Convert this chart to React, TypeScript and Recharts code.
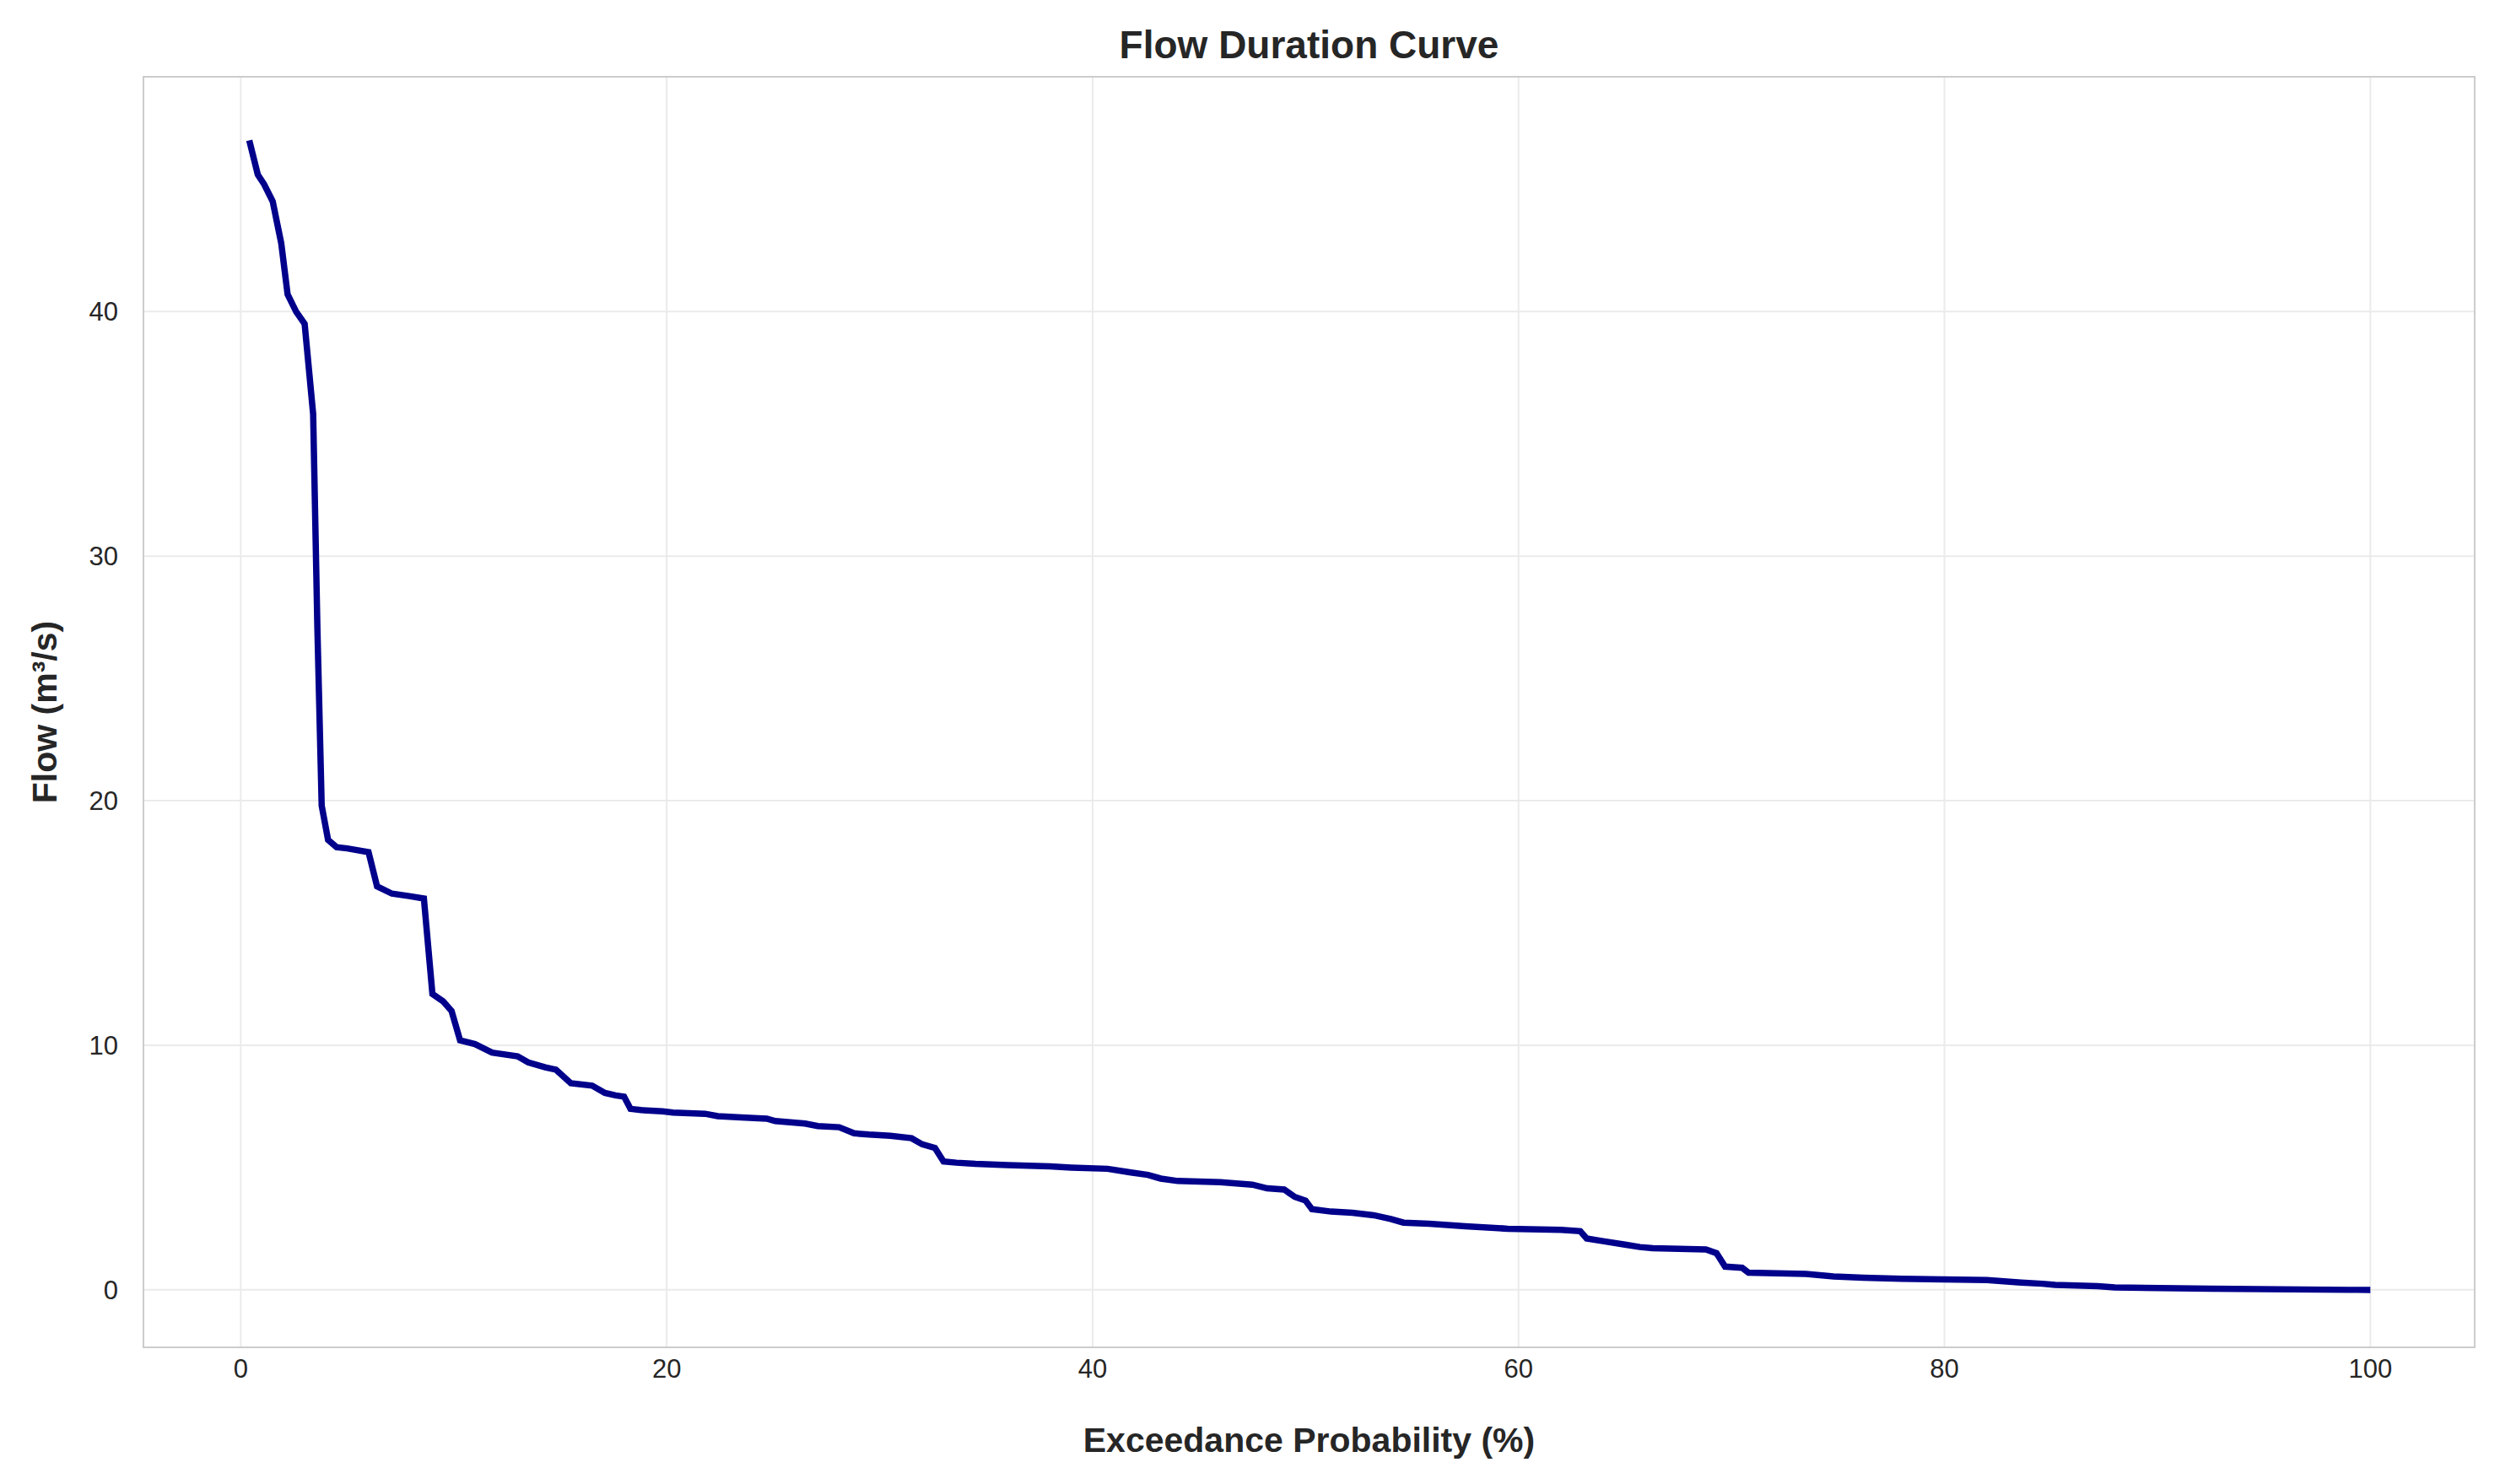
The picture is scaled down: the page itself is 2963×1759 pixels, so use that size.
import { CartesianGrid, Line, LineChart, ReferenceArea, XAxis, YAxis } from "recharts";

const probability = [
  0.4, 0.8, 1.1, 1.5, 1.9, 2.2, 2.6, 3.0, 3.4, 3.6, 3.8, 4.1, 4.5, 5.0, 6.0, 6.4, 7.1, 7.9, 8.6, 9.0,
  9.5, 9.9, 10.3, 11.0, 11.8, 13.0, 13.5, 14.3, 14.8, 15.5, 16.5, 17.1, 17.6, 18.0, 18.3, 18.8, 19.8,
  20.3, 21.8, 22.4, 23.5, 24.7, 25.1, 26.5, 27.1, 28.1, 28.8, 29.5, 30.5, 31.5, 32.0, 32.6, 33.0, 33.6,
  34.5, 36.0, 38.0, 39.0, 40.7, 41.8, 42.6, 43.2, 44.0, 46.0, 47.5, 48.2, 49.0, 49.5, 50.0, 50.3, 51.2,
  52.2, 53.2, 54.0, 54.6, 55.8, 57.5, 59.5, 62.0, 62.9, 63.2, 63.9, 65.0, 65.7, 66.3, 68.8, 69.3, 69.7,
  70.5, 70.8, 73.5, 74.8, 76.2, 78.0, 82.0, 83.6, 84.6, 85.2, 87.2, 88.0, 92.5, 99.0, 100.0,
];
const flow = [
  47, 45.6, 45.2, 44.5, 42.8, 40.7, 40, 39.5, 35.8, 27, 19.8, 18.4, 18.1, 18.05, 17.9, 16.5, 16.2, 16.1, 16, 12.1,
  11.8, 11.4, 10.2, 10.05, 9.7, 9.55, 9.3, 9.1, 9.0, 8.45, 8.35, 8.05, 7.95, 7.9, 7.4, 7.35, 7.3,
  7.25, 7.2, 7.1, 7.05, 7.0, 6.9, 6.8, 6.7, 6.65, 6.4, 6.35, 6.3, 6.2, 5.95, 5.8, 5.25, 5.2,
  5.15, 5.1, 5.05, 5.0, 4.95, 4.8, 4.7, 4.55, 4.45, 4.4, 4.3, 4.15, 4.1, 3.8, 3.65, 3.3, 3.2,
  3.15, 3.05, 2.9, 2.75, 2.7, 2.6, 2.5, 2.45, 2.4, 2.1, 2.0, 1.85, 1.75, 1.7, 1.65, 1.5, 0.95,
  0.9, 0.7, 0.65, 0.55, 0.5, 0.45, 0.4, 0.3, 0.25, 0.2, 0.15, 0.1, 0.05, 0, 0,
];
const xTicks = [0, 20, 40, 60, 80, 100];
const yTicks = [0, 10, 20, 30, 40];

const data = probability.map((p, i) => ({ p, q: flow[i] }));

const font = "'Liberation Sans', Arial, sans-serif";
const tick = { fontSize: 31, fill: "#262626", fontFamily: font };
const X_DOMAIN: [number, number] = [-4.57, 104.9];
const Y_DOMAIN: [number, number] = [-2.35, 49.6];

export default function App() {
  return (
    <div style={{ position: "absolute", left: 0, top: 0, width: 2963, height: 1759, background: "#fff" }}>
      <div
        style={{
          position: "absolute", left: 170, width: 2763, top: 26, textAlign: "center",
          fontFamily: font, fontWeight: "bold", fontSize: 46, color: "#262626",
        }}
      >
        Flow Duration Curve
      </div>
      <LineChart width={2963} height={1759} data={data} margin={{ top: 91, right: 30, left: 0, bottom: 0 }}>
        <CartesianGrid stroke="#ebebeb" strokeWidth={2} horizontalValues={yTicks} verticalValues={xTicks} />
        <XAxis
          dataKey="p" type="number" domain={X_DOMAIN} ticks={xTicks} allowDataOverflow
          height={162} tick={tick} tickLine={false} axisLine={false} tickMargin={8}
          label={{ value: "Exceedance Probability (%)", position: "insideBottom", offset: 38, style: { fontSize: 41, fontWeight: "bold", fill: "#262626", fontFamily: font } }}
        />
        <YAxis
          type="number" domain={Y_DOMAIN} ticks={yTicks} allowDataOverflow
          width={170} tick={tick} tickLine={false} axisLine={false} tickMargin={24}
          label={{ value: "Flow (m³/s)", angle: -90, position: "insideLeft", offset: 52, style: { fontSize: 41, fontWeight: "bold", fill: "#262626", fontFamily: font, textAnchor: "middle" } }}
        />
        <ReferenceArea x1={X_DOMAIN[0]} x2={X_DOMAIN[1]} y1={Y_DOMAIN[0]} y2={Y_DOMAIN[1]} fill="none" stroke="#cccccc" strokeWidth={2} ifOverflow="visible" />
        <Line dataKey="q" type="linear" stroke="#00008b" strokeWidth={7.5} dot={false} isAnimationActive={false} />
      </LineChart>
    </div>
  );
}
